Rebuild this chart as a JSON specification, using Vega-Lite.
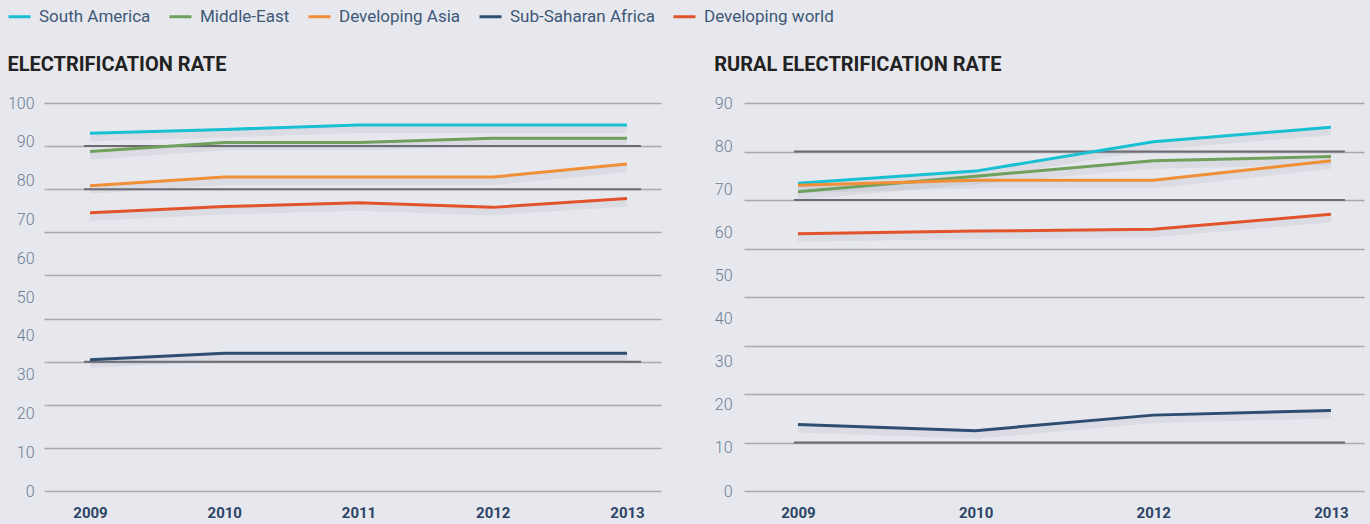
{
  "$schema": "https://vega.github.io/schema/vega-lite/v6.json",
  "background": "#e7e8ed",
  "padding": {"left": 7, "top": 4, "right": 10, "bottom": 8},
  "datasets": {
    "elec": [
      {"region": "South America", "year": "2009", "value": 92.2},
      {"region": "South America", "year": "2010", "value": 93.2},
      {"region": "South America", "year": "2011", "value": 94.3},
      {"region": "South America", "year": "2012", "value": 94.3},
      {"region": "South America", "year": "2013", "value": 94.3},
      {"region": "Middle-East", "year": "2009", "value": 87.5},
      {"region": "Middle-East", "year": "2010", "value": 89.8},
      {"region": "Middle-East", "year": "2011", "value": 89.8},
      {"region": "Middle-East", "year": "2012", "value": 90.9},
      {"region": "Middle-East", "year": "2013", "value": 90.9},
      {"region": "Developing Asia", "year": "2009", "value": 78.7},
      {"region": "Developing Asia", "year": "2010", "value": 80.9},
      {"region": "Developing Asia", "year": "2011", "value": 80.9},
      {"region": "Developing Asia", "year": "2012", "value": 80.9},
      {"region": "Developing Asia", "year": "2013", "value": 84.3},
      {"region": "Sub-Saharan Africa", "year": "2009", "value": 33.8},
      {"region": "Sub-Saharan Africa", "year": "2010", "value": 35.5},
      {"region": "Sub-Saharan Africa", "year": "2011", "value": 35.5},
      {"region": "Sub-Saharan Africa", "year": "2012", "value": 35.5},
      {"region": "Sub-Saharan Africa", "year": "2013", "value": 35.5},
      {"region": "Developing world", "year": "2009", "value": 71.7},
      {"region": "Developing world", "year": "2010", "value": 73.3},
      {"region": "Developing world", "year": "2011", "value": 74.3},
      {"region": "Developing world", "year": "2012", "value": 73.1},
      {"region": "Developing world", "year": "2013", "value": 75.4}
    ],
    "rural": [
      {"region": "South America", "year": "2009", "value": 71.4},
      {"region": "South America", "year": "2010", "value": 74.2},
      {"region": "South America", "year": "2012", "value": 81.0},
      {"region": "South America", "year": "2013", "value": 84.4},
      {"region": "Middle-East", "year": "2009", "value": 69.4},
      {"region": "Middle-East", "year": "2010", "value": 73.0},
      {"region": "Middle-East", "year": "2012", "value": 76.6},
      {"region": "Middle-East", "year": "2013", "value": 77.6},
      {"region": "Developing Asia", "year": "2009", "value": 70.9},
      {"region": "Developing Asia", "year": "2010", "value": 72.1},
      {"region": "Developing Asia", "year": "2012", "value": 72.1},
      {"region": "Developing Asia", "year": "2013", "value": 76.6},
      {"region": "Sub-Saharan Africa", "year": "2009", "value": 15.4},
      {"region": "Sub-Saharan Africa", "year": "2010", "value": 14.0},
      {"region": "Sub-Saharan Africa", "year": "2012", "value": 17.6},
      {"region": "Sub-Saharan Africa", "year": "2013", "value": 18.7},
      {"region": "Developing world", "year": "2009", "value": 59.7},
      {"region": "Developing world", "year": "2010", "value": 60.3},
      {"region": "Developing world", "year": "2012", "value": 60.7},
      {"region": "Developing world", "year": "2013", "value": 64.2}
    ],
    "elecRef": [{"v": 88.889}, {"v": 77.778}, {"v": 33.333}],
    "ruralRef": [{"v": 78.75}, {"v": 67.5}, {"v": 11.25}]
  },
  "spacing": 53,
  "hconcat": [
    {
      "width": 617,
      "height": 388,
      "title": {"text": "ELECTRIFICATION RATE"},
      "layer": [
        {
          "data": {"name": "elecRef"},
          "mark": {"type": "rule", "color": "#6b6b70", "strokeWidth": 2, "xOffset": -6, "x2Offset": 14},
          "encoding": {
            "x": {"datum": "2009", "type": "ordinal"},
            "x2": {"datum": "2013"},
            "y": {
              "field": "v", "type": "quantitative",
              "scale": {"domain": [0, 100]},
              "axis": {"orient": "right", "labels": false, "grid": true,
                "values": [0, 11.111, 22.222, 33.333, 44.444, 55.556, 66.667, 77.778, 88.889, 100]}
            }
          }
        },
        {
          "data": {"name": "elec"},
          "mark": {"type": "line", "color": "#7d879c", "opacity": 0.12, "strokeWidth": 8, "yOffset": 4},
          "encoding": {
            "x": {"field": "year", "type": "ordinal"},
            "y": {"field": "value", "type": "quantitative", "axis": null},
            "detail": {"field": "region"}
          }
        },
        {
          "data": {"name": "elec"},
          "mark": {"type": "line", "strokeWidth": 3},
          "encoding": {
            "x": {
              "field": "year", "type": "ordinal",
              "scale": {"type": "point", "padding": 0.298, "align": 0.575},
              "axis": {"labelAngle": 0, "grid": false, "labelAlign": "center"}
            },
            "y": {
              "field": "value", "type": "quantitative",
              "scale": {"domain": [0, 100]},
              "axis": {"grid": false, "values": [0, 10, 20, 30, 40, 50, 60, 70, 80, 90, 100], "labelPadding": 10}
            },
            "color": {
              "field": "region", "type": "nominal",
              "scale": {
                "domain": ["South America", "Middle-East", "Developing Asia", "Sub-Saharan Africa", "Developing world"],
                "range": ["#19bfd3", "#6fa05c", "#f08f35", "#2e4d73", "#e2532b"]
              },
              "legend": {"title": null}
            }
          }
        }
      ],
      "resolve": {"axis": {"y": "independent"}}
    },
    {
      "width": 620,
      "height": 388,
      "title": {"text": "RURAL ELECTRIFICATION RATE"},
      "layer": [
        {
          "data": {"name": "ruralRef"},
          "mark": {"type": "rule", "color": "#6b6b70", "strokeWidth": 2, "xOffset": -4, "x2Offset": 14},
          "encoding": {
            "x": {"datum": "2009", "type": "ordinal"},
            "x2": {"datum": "2013"},
            "y": {
              "field": "v", "type": "quantitative",
              "scale": {"domain": [0, 90]},
              "axis": {"orient": "right", "labels": false, "grid": true,
                "values": [0, 11.25, 22.5, 33.75, 45, 56.25, 67.5, 78.75, 90]}
            }
          }
        },
        {
          "data": {"name": "rural"},
          "mark": {"type": "line", "color": "#7d879c", "opacity": 0.12, "strokeWidth": 8, "yOffset": 4},
          "encoding": {
            "x": {"field": "year", "type": "ordinal"},
            "y": {"field": "value", "type": "quantitative", "axis": null},
            "detail": {"field": "region"}
          }
        },
        {
          "data": {"name": "rural"},
          "mark": {"type": "line", "strokeWidth": 3},
          "encoding": {
            "x": {
              "field": "year", "type": "ordinal",
              "scale": {"type": "point", "padding": 0.245, "align": 0.62},
              "axis": {"labelAngle": 0, "grid": false, "labelAlign": "center"}
            },
            "y": {
              "field": "value", "type": "quantitative",
              "scale": {"domain": [0, 90]},
              "axis": {"grid": false, "values": [0, 10, 20, 30, 40, 50, 60, 70, 80, 90], "labelPadding": 12}
            },
            "color": {
              "field": "region", "type": "nominal",
              "scale": {
                "domain": ["South America", "Middle-East", "Developing Asia", "Sub-Saharan Africa", "Developing world"],
                "range": ["#19bfd3", "#6fa05c", "#f08f35", "#2e4d73", "#e2532b"]
              },
              "legend": {"title": null}
            }
          }
        }
      ],
      "resolve": {"axis": {"y": "independent"}}
    }
  ],
  "config": {
    "view": {"stroke": null},
    "axis": {
      "domain": false, "ticks": false, "title": null,
      "gridColor": "#a9a9ae", "gridWidth": 1.5,
      "labelFont": "Roboto", "labelFontSize": 16, "labelFontWeight": 300, "labelColor": "#6a7d96"
    },
    "axisX": {
      "labelFont": "Roboto", "labelFontSize": 15, "labelFontWeight": "bold",
      "labelColor": "#2c4467", "labelPadding": 21, "labelAlign": "center"
    },
    "legend": {
      "orient": "none", "legendX": -37, "legendY": -99, "direction": "horizontal",
      "symbolType": "stroke", "symbolStrokeWidth": 3, "symbolSize": 484,
      "labelFont": "Roboto", "labelFontSize": 17, "labelColor": "#3e5878", "labelLimit": 400,
      "labelOffset": 7, "columnPadding": 12
    },
    "title": {
      "anchor": "start", "frame": "bounds", "font": "Roboto", "fontSize": 20, "fontWeight": "bold",
      "color": "#222222", "offset": 20
    }
  }
}
